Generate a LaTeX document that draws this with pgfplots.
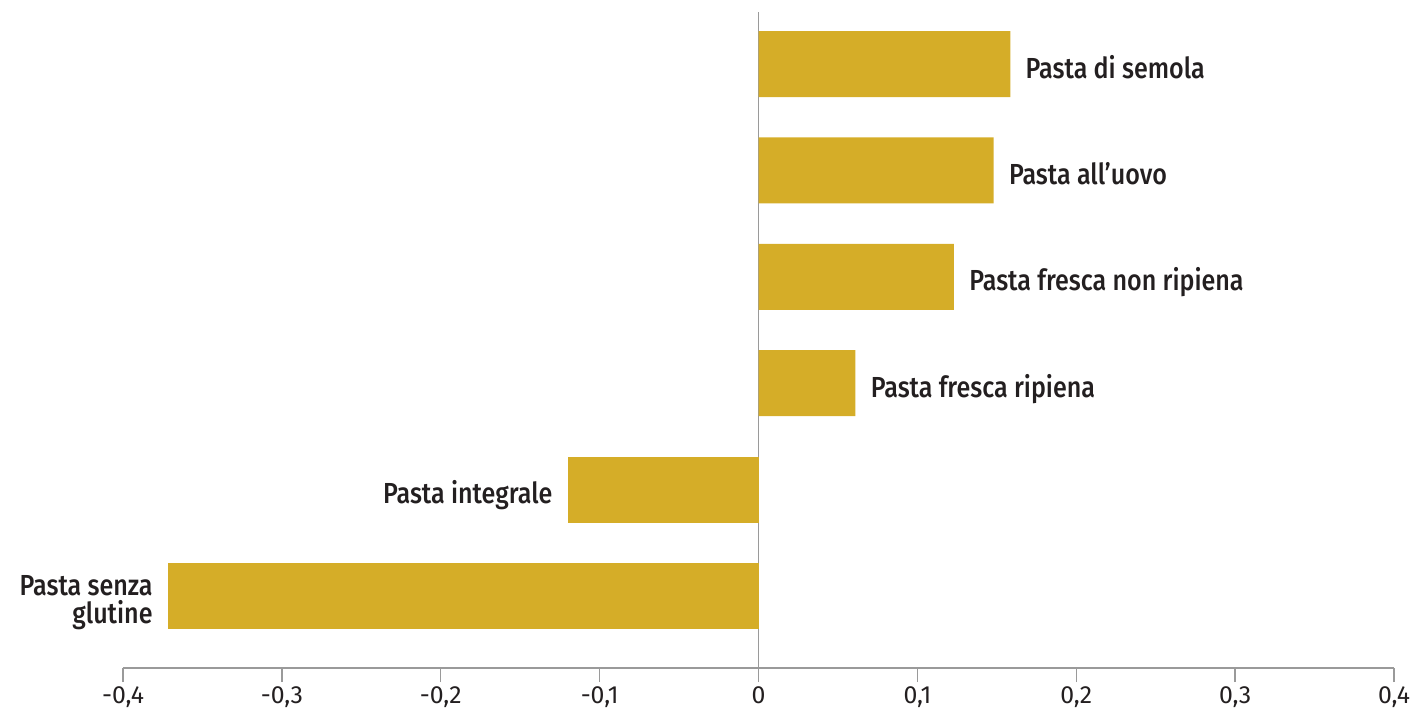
\documentclass[border=0pt]{standalone}
\usepackage{fontspec}
\setmainfont{Fira Sans}
\newfontfamily\labelfont{Fira Sans Medium}[FakeStretch=0.865]
\newfontfamily\tickfont{Fira Sans}
\usepackage{pgfplots}
\pgfplotsset{compat=1.18}
\definecolor{barcol}{HTML}{D5AD28}
\definecolor{axiscol}{HTML}{9A9A9A}
\definecolor{textcol}{HTML}{231F20}
\begin{document}
\begin{tikzpicture}
\path[use as bounding box] (-61.5bp,-22bp) rectangle (648bp,334bp);
\begin{axis}[
  scale only axis, width=635.5bp, height=328bp,
  xmin=-0.4, xmax=0.4, ymin=-0.677, ymax=5.489,
  axis x line*=bottom, axis y line=none,
  x axis line style={axiscol, line width=0.7bp},
  xtick={-0.4,-0.3,-0.2,-0.1,0,0.1,0.2,0.3,0.4},
  ytick=\empty,
  tick align=outside, major tick length=7bp,
  every tick/.style={axiscol, line width=0.7bp},
  /pgf/number format/.cd, fixed, precision=1, use comma, assume math mode=true,
  /pgfplots/.cd,
  xticklabel style={font=\tickfont\fontsize{12.4bp}{14bp}\selectfont, text=textcol, inner sep=0pt, anchor=north, text height=8.6bp, text depth=0pt, yshift=-2bp},
  xbar, bar width=33bp, bar shift=0pt,
  point meta=explicit symbolic,
  nodes near coords,
  every node near coord/.append style={font=\labelfont\fontsize{14.5bp}{14bp}\selectfont, text=textcol, inner sep=0pt, align=right},
  clip=false,
]
\draw[axiscol, line width=0.7bp] (axis cs:0,-0.677) -- (axis cs:0,5.489);
\addplot[fill=barcol, draw=none, nodes near coords style={anchor=base west, xshift=7.5bp, yshift=-7bp}] coordinates {
  (0.1585,5) [Pasta di semola]
  (0.148,4) [Pasta all’uovo]
  (0.123,3) [Pasta fresca non ripiena]
  (0.061,2) [Pasta fresca ripiena]
};
\addplot[fill=barcol, draw=none, nodes near coords style={anchor=base east, xshift=-7.5bp, yshift=-7bp}] coordinates {
  (-0.120,1) [Pasta integrale]
};
\addplot[fill=barcol, draw=none, nodes near coords style={anchor=east, xshift=-7.5bp, yshift=-3.5bp}] coordinates {
  (-0.3717,0) [{Pasta senza\\glutine}]
};
\end{axis}
\end{tikzpicture}
\end{document}
